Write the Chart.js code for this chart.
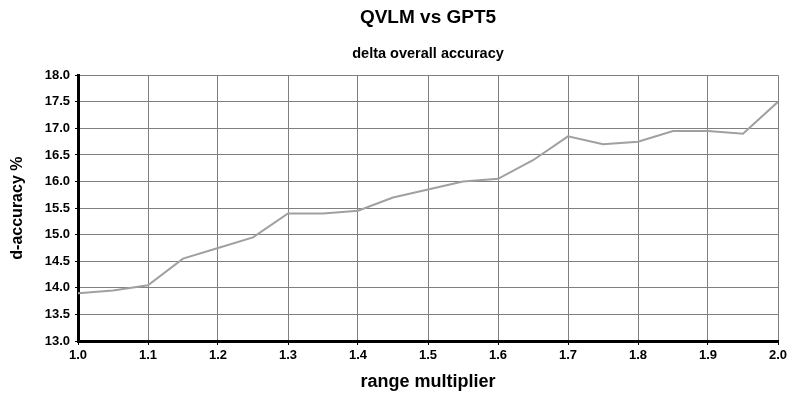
<!DOCTYPE html>
<html>
<head>
<meta charset="utf-8">
<script src="https://cdn.jsdelivr.net/npm/chart.js@4/dist/chart.umd.min.js"></script>
<style>
  html, body { margin: 0; padding: 0; background: #fff; }
  #wrap { width: 800px; height: 400px; }
</style>
</head>
<body>
<div id="wrap"><canvas id="c" width="800" height="400"></canvas></div>
<script>
const chartTitle = "QVLM vs GPT5";
const chartSubtitle = "delta overall accuracy";
const xAxisTitle = "range multiplier";
const yAxisTitle = "d-accuracy %";

const rangeMultiplier = [1.00, 1.05, 1.10, 1.15, 1.20, 1.25, 1.30, 1.35, 1.40, 1.45, 1.50,
                         1.55, 1.60, 1.65, 1.70, 1.75, 1.80, 1.85, 1.90, 1.95, 2.00];
const deltaAccuracy  = [13.90, 13.95, 14.05, 14.55, 14.75, 14.95, 15.40, 15.40, 15.45, 15.70, 15.85,
                        16.00, 16.05, 16.40, 16.85, 16.70, 16.75, 16.95, 16.95, 16.90, 17.50];

const xMin = 1.0, xMax = 2.0, xStep = 0.1;
const yMin = 13.0, yMax = 18.0, yStep = 0.5;

const points = rangeMultiplier.map((x, i) => ({ x: x, y: deltaAccuracy[i] }));

new Chart(document.getElementById('c'), {
  type: 'line',
  data: {
    datasets: [{
      data: points,
      borderColor: '#a0a0a0',
      borderWidth: 2,
      pointRadius: 0,
      tension: 0,
      fill: false
    }]
  },
  options: {
    responsive: false,
    animation: false,
    layout: { padding: { left: 0, right: 22, top: 0, bottom: 0 } },
    plugins: {
      legend: { display: false },
      tooltip: { enabled: false },
      title: {
        display: true,
        fullSize: false,
        text: chartTitle,
        color: '#000',
        font: { family: 'Liberation Sans, Arial, sans-serif', size: 19, weight: 'bold' },
        padding: { top: 6, bottom: 0 }
      },
      subtitle: {
        display: true,
        fullSize: false,
        text: chartSubtitle,
        color: '#000',
        font: { family: 'Liberation Sans, Arial, sans-serif', size: 14.5, weight: 'bold' },
        padding: { top: 16, bottom: 13 }
      }
    },
    scales: {
      x: {
        type: 'linear',
        min: xMin,
        max: xMax,
        afterFit: s => { s.height = 59; },
        border: { color: '#000', width: 3 },
        grid: { color: '#808080', lineWidth: 1, tickColor: '#000', tickLength: 4 },
        ticks: {
          stepSize: xStep,
          color: '#000',
          padding: 3,
          maxRotation: 0,
          font: { family: 'Liberation Sans, Arial, sans-serif', size: 13, weight: 'bold' },
          callback: v => Number(v).toFixed(1)
        },
        title: {
          display: true,
          text: xAxisTitle,
          color: '#000',
          font: { family: 'Liberation Sans, Arial, sans-serif', size: 18, weight: 'bold' },
          padding: { top: 0, bottom: 7 }
        }
      },
      y: {
        type: 'linear',
        min: yMin,
        max: yMax,
        afterFit: s => { s.width = 78; },
        border: { color: '#000', width: 3 },
        grid: { color: '#808080', lineWidth: 1, tickColor: '#000', tickLength: 3 },
        ticks: {
          stepSize: yStep,
          color: '#000',
          padding: 5,
          font: { family: 'Liberation Sans, Arial, sans-serif', size: 13, weight: 'bold' },
          callback: v => Number(v).toFixed(1)
        },
        title: {
          display: true,
          text: yAxisTitle,
          color: '#000',
          font: { family: 'Liberation Sans, Arial, sans-serif', size: 16, weight: 'bold' },
          padding: { top: 8, bottom: 0 }
        }
      }
    }
  }
});
</script>
</body>
</html>
